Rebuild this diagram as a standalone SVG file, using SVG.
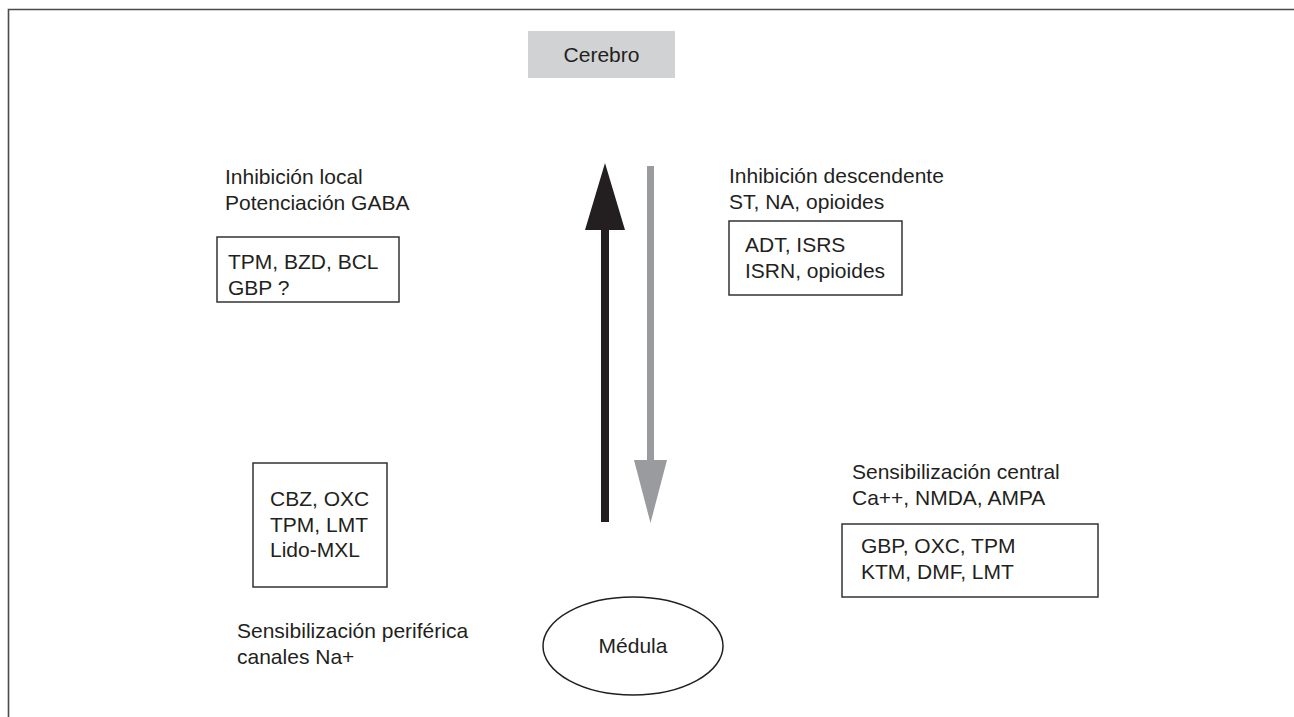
<svg xmlns="http://www.w3.org/2000/svg" width="1294" height="717" viewBox="0 0 1294 717">
<style>
text{font-family:"Liberation Sans",Arial,Helvetica,sans-serif;font-size:21px;fill:#231f20}
.box{fill:#fff;stroke:#333;stroke-width:1.5}
.frame{fill:none;stroke:#4a4a4a;stroke-width:1.6}
.up{fill:#231f20}
.down{fill:#9a9b9e}
</style>
<rect width="1294" height="717" fill="#fff"/>
<path class="frame" d="M8.5,717 V9.5 H1294"/>
<g id="cerebro">
<rect x="528" y="31" width="147" height="47" fill="#d1d2d4"/>
<text x="601.5" y="62" text-anchor="middle">Cerebro</text>
</g>
<g id="connectors">
<path class="up" d="M601,522 V230 H585 L605,163 L625,230 H609 V522 Z"/>
<path class="down" d="M647,166 H654 V460 H667 L650.5,523 L634,460 H647 Z"/>
</g>
<g id="inhibicion-local">
<text x="225" y="184">Inhibición local</text>
<text x="225" y="210">Potenciación GABA</text>
</g>
<g id="box-gaba">
<rect class="box" x="217" y="237" width="182" height="65"/>
<text x="228" y="269">TPM, BZD, BCL</text>
<text x="228" y="295">GBP ?</text>
</g>
<g id="inhibicion-descendente">
<text x="729" y="183">Inhibición descendente</text>
<text x="729" y="208.5">ST, NA, opioides</text>
</g>
<g id="box-descendente">
<rect class="box" x="729" y="221" width="173" height="74"/>
<text x="745" y="252">ADT, ISRS</text>
<text x="745" y="277.5">ISRN, opioides</text>
</g>
<g id="box-periferica">
<rect class="box" x="253" y="463" width="134" height="124"/>
<text x="270" y="506">CBZ, OXC</text>
<text x="270" y="531.5">TPM, LMT</text>
<text x="270" y="557">Lido-MXL</text>
</g>
<g id="sensibilizacion-periferica">
<text x="237" y="638">Sensibilización periférica</text>
<text x="237" y="663.5">canales Na+</text>
</g>
<g id="sensibilizacion-central">
<text x="852" y="479">Sensibilización central</text>
<text x="852" y="505">Ca++, NMDA, AMPA</text>
</g>
<g id="box-central">
<rect class="box" x="842" y="524" width="256" height="73"/>
<text x="861" y="553">GBP, OXC, TPM</text>
<text x="861" y="578.5">KTM, DMF, LMT</text>
</g>
<g id="medula">
<ellipse cx="633" cy="646" rx="90" ry="49" fill="#fff" stroke="#231f20" stroke-width="1.5"/>
<text x="633" y="653" text-anchor="middle">Médula</text>
</g>
</svg>
